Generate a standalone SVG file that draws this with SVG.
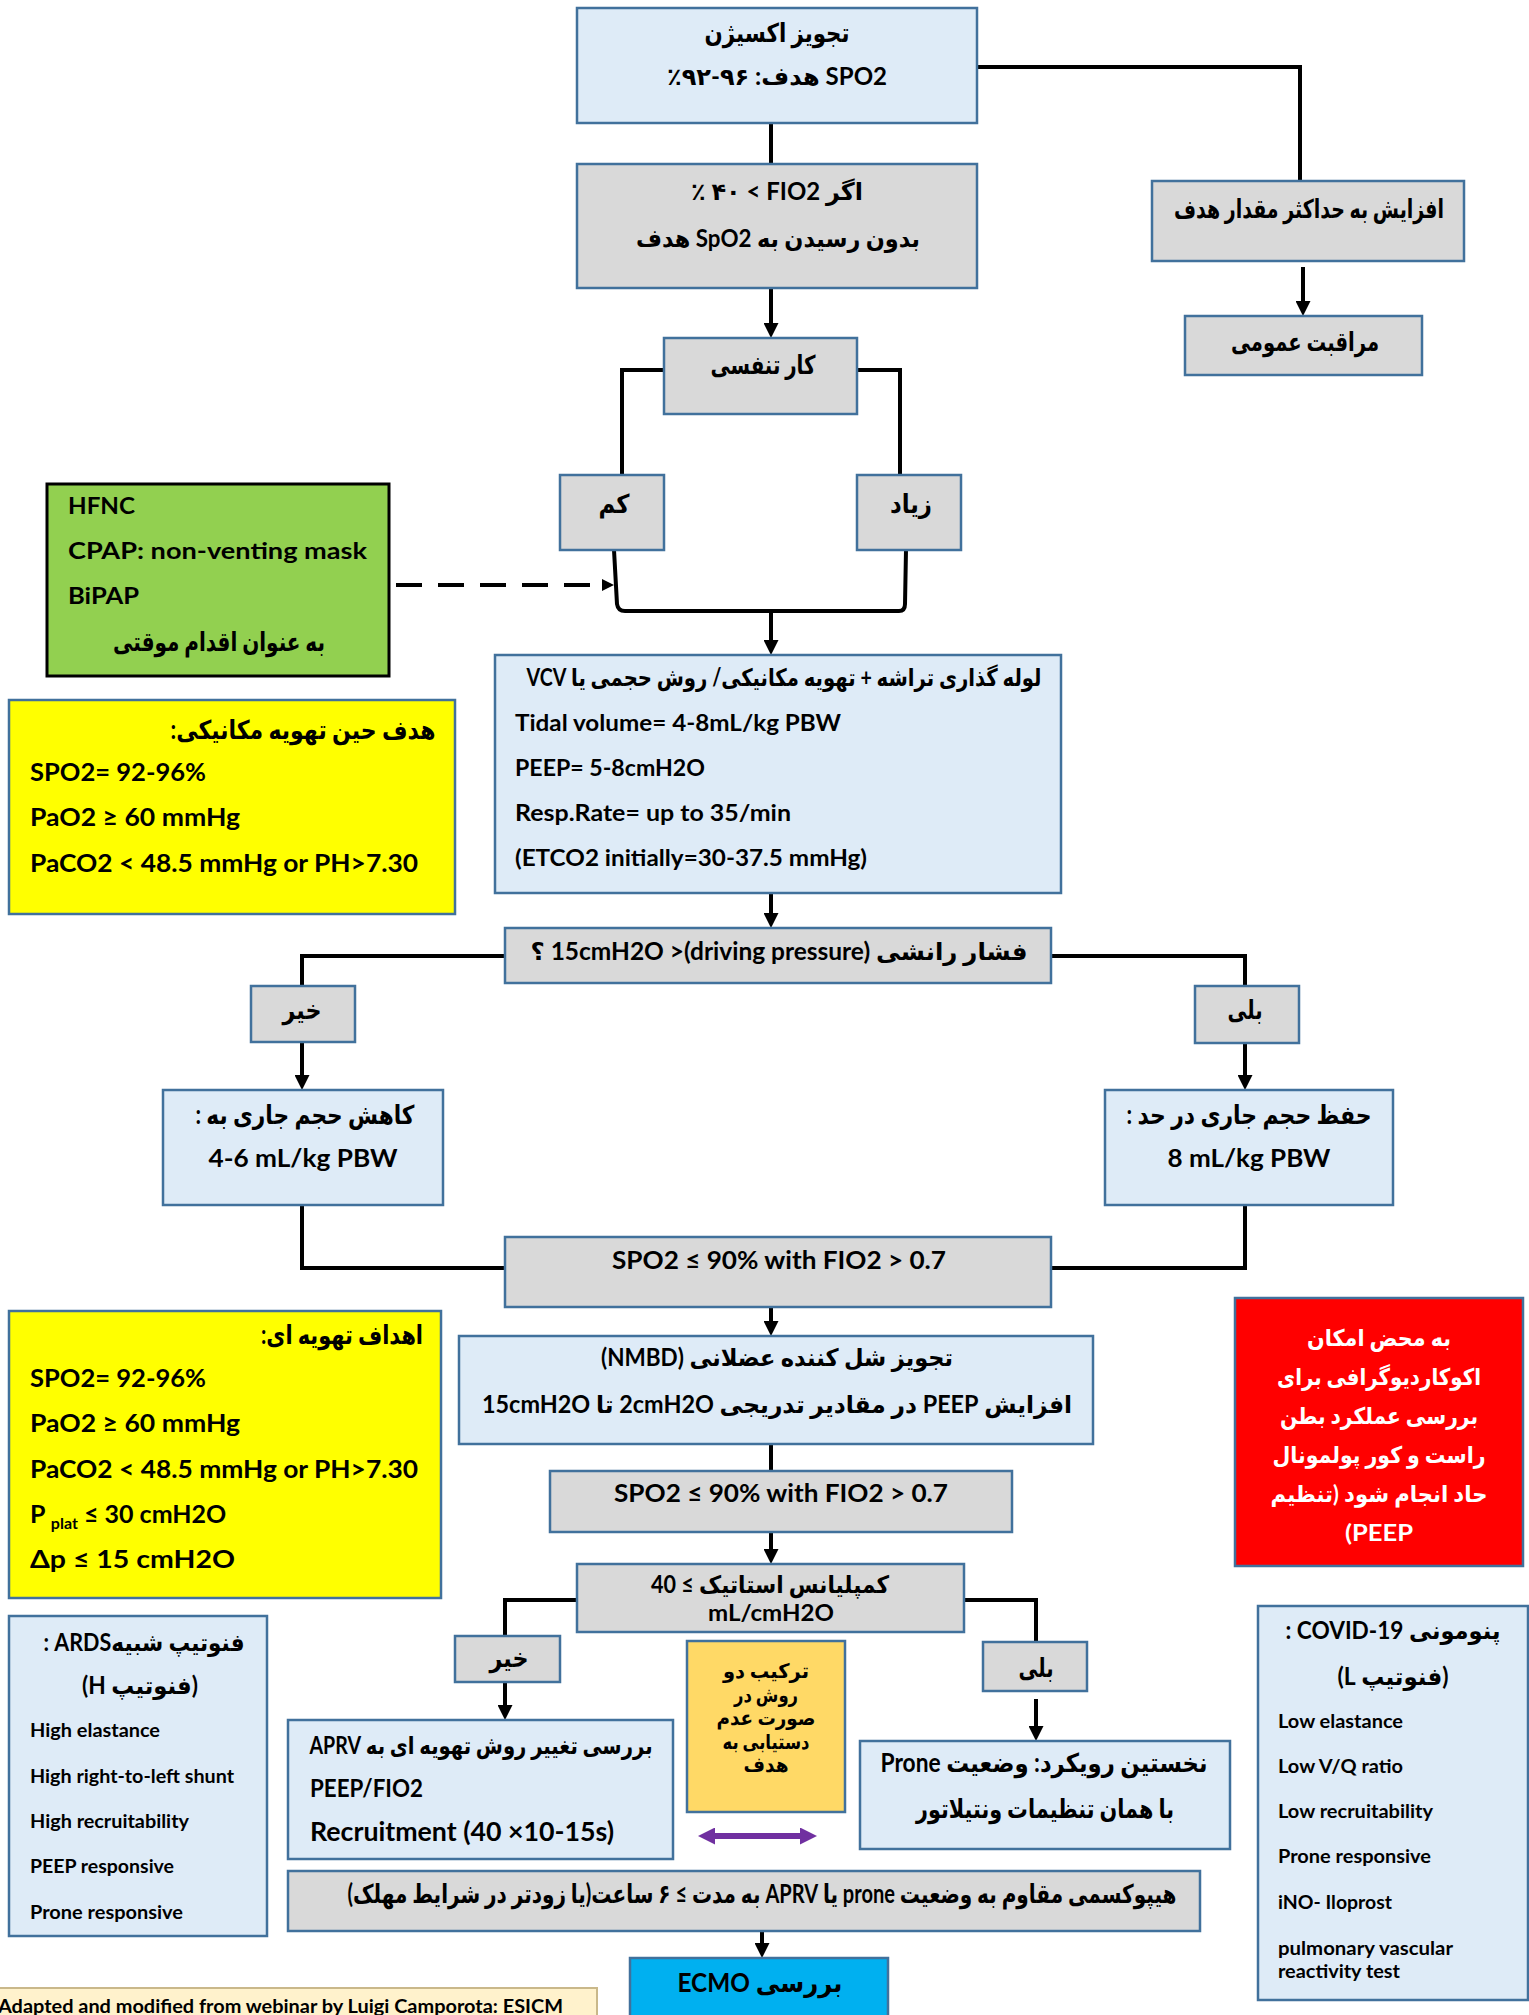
<svg xmlns="http://www.w3.org/2000/svg" width="1529" height="2015" viewBox="0 0 1529 2015">
<style>
.bb{fill:#DEEBF7;stroke:#41719C;stroke-width:2.5}
.bg{fill:#D9D9D9;stroke:#41719C;stroke-width:2.5}
.t{font-family:Lato,'DejaVu Sans',sans-serif;font-weight:700;fill:#000}
.fa{direction:rtl;text-anchor:middle;font-size:26px}
.mx{font-size:24px}
.m{text-anchor:middle}
.s{font-size:18px}
.w{fill:#fff;font-size:23px}
.o{font-size:20px}
.cn path{fill:none;stroke:#000;stroke-width:4}
</style>
<defs>
<marker id="ah" viewBox="0 0 10 10" refX="0" refY="5" markerWidth="15" markerHeight="15" markerUnits="userSpaceOnUse" orient="auto"><path d="M0,0L10,5L0,10z" fill="#000"/></marker>
<marker id="ahs" viewBox="0 0 10 10" refX="0" refY="5" markerWidth="12" markerHeight="12" markerUnits="userSpaceOnUse" orient="auto"><path d="M0,0L10,5L0,10z" fill="#000"/></marker>
<marker id="ahp" viewBox="0 0 10 10" refX="0" refY="5" markerWidth="17" markerHeight="17" markerUnits="userSpaceOnUse" orient="auto-start-reverse"><path d="M0,0L10,5L0,10z" fill="#7030A0"/></marker>
</defs>
<rect width="1529" height="2015" fill="#fff"/>

<g id="connectors" class="cn">
<path d="M977,67H1300V181" stroke-width="4.5"/>
<path d="M771,123V164" stroke-width="5"/>
<path d="M771,288V323" marker-end="url(#ah)" stroke-width="4.5"/>
<path d="M1303,267V301" marker-end="url(#ah)"/>
<path d="M664,370H622V476H591"/>
<path d="M857,370H900V476H939"/>
<path d="M614,550L617,604Q618,611 625,611H899Q905,611 905,604L906,550"/>
<path d="M771,611V640" marker-end="url(#ah)" stroke-width="4.5"/>
<path d="M396,585H602" marker-end="url(#ahs)" stroke-dasharray="26 16"/>
<path d="M771,893V913" marker-end="url(#ah)" stroke-width="4.5"/>
<path d="M505,956H302V986"/>
<path d="M302,1042V1075" marker-end="url(#ah)" stroke-width="3"/>
<path d="M1051,956H1245V986"/>
<path d="M1245,1042V1075" marker-end="url(#ah)"/>
<path d="M302,1205V1268H505"/>
<path d="M1245,1205V1268H1051"/>
<path d="M771,1307V1321" marker-end="url(#ah)" stroke-width="3"/>
<path d="M771,1444V1471" stroke-width="3"/>
<path d="M771,1532V1549" marker-end="url(#ah)" stroke-width="3"/>
<path d="M577,1600H505V1636"/>
<path d="M964,1600H1036V1642"/>
<path d="M505,1682V1705" marker-end="url(#ah)" stroke-width="3"/>
<path d="M1036,1699V1726" marker-end="url(#ah)" stroke-width="3"/>
<path d="M762,1931V1943" marker-end="url(#ah)" stroke-width="3"/>
<path d="M715,1836H800" marker-start="url(#ahp)" marker-end="url(#ahp)" style="stroke:#7030A0;stroke-width:6"/>
</g>

<g id="n-oxygen"><rect class="bb" x="577" y="8" width="400" height="115"/>
<text class="t fa" x="777" y="42" textLength="145" lengthAdjust="spacingAndGlyphs">تجویز اکسیژن</text>
<text class="t fa mx" x="777" y="85" textLength="220" lengthAdjust="spacingAndGlyphs">&#x2066;SPO2&#x2069; هدف: &#x2066;٪۹۲-۹۶&#x2069;</text></g>

<g id="n-fio2"><rect class="bg" x="577" y="164" width="400" height="124"/>
<text class="t fa mx" x="777" y="200" textLength="172" lengthAdjust="spacingAndGlyphs">اگر &#x2066;٪ ۴۰ &lt; FIO2&#x2069;</text>
<text class="t fa mx" x="778" y="247" textLength="284" lengthAdjust="spacingAndGlyphs">بدون رسیدن به &#x2066;SpO2&#x2069; هدف</text></g>

<g id="n-increase"><rect class="bg" x="1152" y="181" width="312" height="80"/>
<text class="t fa" x="1309" y="218" font-size="21" textLength="270" lengthAdjust="spacingAndGlyphs">افزایش به حداکثر مقدار هدف</text></g>

<g id="n-care"><rect class="bg" x="1185" y="316" width="237" height="59"/>
<text class="t fa" x="1305" y="351" textLength="148" lengthAdjust="spacingAndGlyphs">مراقبت عمومی</text></g>

<g id="n-wob"><rect class="bg" x="664" y="338" width="193" height="76"/>
<text class="t fa" x="763" y="374" textLength="105" lengthAdjust="spacingAndGlyphs">کار تنفسی</text></g>

<g id="n-low"><rect class="bg" x="560" y="475" width="104" height="75"/>
<text class="t fa" x="614" y="513" textLength="31" lengthAdjust="spacingAndGlyphs">کم</text></g>

<g id="n-high"><rect class="bg" x="857" y="475" width="104" height="75"/>
<text class="t fa" x="911" y="513" textLength="42" lengthAdjust="spacingAndGlyphs">زیاد</text></g>

<g id="n-nippv"><rect x="47" y="484" width="342" height="192" fill="#92D050" stroke="#000" stroke-width="3"/>
<text class="t" x="68" y="514" font-size="23" textLength="67" lengthAdjust="spacingAndGlyphs">HFNC</text>
<text class="t" x="68" y="559" font-size="23" textLength="299" lengthAdjust="spacingAndGlyphs">CPAP: non-venting mask</text>
<text class="t" x="68" y="604" font-size="23" textLength="71" lengthAdjust="spacingAndGlyphs">BiPAP</text>
<text class="t fa" x="219" y="651" textLength="212" lengthAdjust="spacingAndGlyphs">به عنوان اقدام موقتی</text></g>

<g id="n-intubation"><rect class="bb" x="495" y="655" width="566" height="238"/>
<text class="t fa mx" x="784" y="686" textLength="515" lengthAdjust="spacingAndGlyphs">لوله گذاری تراشه + تهویه مکانیکی/ روش حجمی یا &#x2066;VCV&#x2069;</text>
<text class="t" x="515" y="731" font-size="23" textLength="326" lengthAdjust="spacingAndGlyphs">Tidal volume= 4-8mL/kg PBW</text>
<text class="t" x="515" y="776" font-size="23" textLength="190" lengthAdjust="spacingAndGlyphs">PEEP= 5-8cmH2O</text>
<text class="t" x="515" y="821" font-size="23" textLength="276" lengthAdjust="spacingAndGlyphs">Resp.Rate= up to 35/min</text>
<text class="t" x="515" y="866" font-size="23" textLength="352" lengthAdjust="spacingAndGlyphs">(ETCO2 initially=30-37.5 mmHg)</text></g>

<g id="n-goal-mv"><rect x="9" y="700" width="446" height="214" fill="#FFFF00" stroke="#41719C" stroke-width="2.5"/>
<text class="t fa" x="303" y="739" font-size="25" textLength="265" lengthAdjust="spacingAndGlyphs">هدف حین تهویه مکانیکی:</text>
<text class="t" x="30" y="781" font-size="25" textLength="176" lengthAdjust="spacingAndGlyphs">SPO2= 92-96%</text>
<text class="t" x="30" y="826" font-size="25" textLength="210" lengthAdjust="spacingAndGlyphs">PaO2 ≥ 60 mmHg</text>
<text class="t" x="30" y="872" font-size="25" textLength="388" lengthAdjust="spacingAndGlyphs">PaCO2 &lt; 48.5 mmHg or PH&gt;7.30</text></g>

<g id="n-dp"><rect class="bg" x="505" y="928" width="546" height="55"/>
<text class="t fa mx" x="779" y="960" textLength="497" lengthAdjust="spacingAndGlyphs">فشار رانشی &#x2066;15cmH2O &gt;(driving pressure)&#x2069; ؟</text></g>

<g id="n-no1"><rect class="bg" x="251" y="986" width="104" height="56"/>
<text class="t fa" x="302" y="1019" textLength="39" lengthAdjust="spacingAndGlyphs">خیر</text></g>

<g id="n-yes1"><rect class="bg" x="1195" y="986" width="104" height="57"/>
<text class="t fa" x="1245" y="1019" textLength="35" lengthAdjust="spacingAndGlyphs">بلی</text></g>

<g id="n-reduce"><rect class="bb" x="163" y="1090" width="280" height="115"/>
<text class="t fa" x="305" y="1124" textLength="219" lengthAdjust="spacingAndGlyphs">کاهش حجم جاری به :</text>
<text class="t m" x="303" y="1167" font-size="25" textLength="189" lengthAdjust="spacingAndGlyphs">4-6 mL/kg PBW</text></g>

<g id="n-keep"><rect class="bb" x="1105" y="1090" width="288" height="115"/>
<text class="t fa" x="1249" y="1124" textLength="245" lengthAdjust="spacingAndGlyphs">حفظ حجم جاری در حد :</text>
<text class="t m" x="1249" y="1167" font-size="25" textLength="163" lengthAdjust="spacingAndGlyphs">8 mL/kg PBW</text></g>

<g id="n-spo2a"><rect class="bg" x="505" y="1237" width="546" height="70"/>
<text class="t m" x="779" y="1269" font-size="24" textLength="334" lengthAdjust="spacingAndGlyphs">SPO2 ≤ 90% with FIO2 &gt; 0.7</text></g>

<g id="n-nmbd"><rect class="bb" x="459" y="1336" width="634" height="108"/>
<text class="t fa mx" x="777" y="1366" textLength="352" lengthAdjust="spacingAndGlyphs">تجویز شل کننده عضلانی (NMBD)</text>
<text class="t fa mx" x="777" y="1413" textLength="590" lengthAdjust="spacingAndGlyphs">افزایش &#x2066;PEEP&#x2069; در مقادیر تدریجی &#x2066;2cmH2O&#x2069; تا  &#x2066;15cmH2O&#x2069;</text></g>

<g id="n-spo2b"><rect class="bg" x="550" y="1471" width="462" height="61"/>
<text class="t m" x="781" y="1502" font-size="24" textLength="334" lengthAdjust="spacingAndGlyphs">SPO2 ≤ 90% with FIO2 &gt; 0.7</text></g>

<g id="n-compliance"><rect class="bg" x="577" y="1564" width="387" height="68"/>
<text class="t fa mx" x="770" y="1593" textLength="238" lengthAdjust="spacingAndGlyphs">کمپلیانس استاتیک &#x2066;40  ≤&#x2069;</text>
<text class="t m" x="771" y="1621" font-size="23" textLength="126" lengthAdjust="spacingAndGlyphs">mL/cmH2O</text></g>

<g id="n-no2"><rect class="bg" x="455" y="1636" width="105" height="46"/>
<text class="t fa" x="509" y="1667" textLength="39" lengthAdjust="spacingAndGlyphs">خیر</text></g>

<g id="n-yes2"><rect class="bg" x="983" y="1642" width="104" height="49"/>
<text class="t fa" x="1036" y="1677" textLength="35" lengthAdjust="spacingAndGlyphs">بلی</text></g>

<g id="n-aprv"><rect class="bb" x="288" y="1720" width="385" height="139"/>
<text class="t fa mx" x="481" y="1754" textLength="343" lengthAdjust="spacingAndGlyphs">بررسی تغییر روش تهویه ای به &#x2066;APRV&#x2069;</text>
<text class="t" x="310" y="1797" font-size="24" textLength="113" lengthAdjust="spacingAndGlyphs">PEEP/FIO2</text>
<text class="t" x="310" y="1841" font-size="26" textLength="304" lengthAdjust="spacingAndGlyphs">Recruitment (40 ×10-15s)</text></g>

<g id="n-combine"><rect x="687" y="1641" width="158" height="171" fill="#FFD966" stroke="#41719C" stroke-width="2.5"/>
<text class="t fa o" x="766" y="1678" textLength="86" lengthAdjust="spacingAndGlyphs">ترکیب دو</text>
<text class="t fa o" x="766" y="1702" textLength="64" lengthAdjust="spacingAndGlyphs">روش در</text>
<text class="t fa o" x="766" y="1725" textLength="99" lengthAdjust="spacingAndGlyphs">صورت عدم</text>
<text class="t fa o" x="766" y="1749" textLength="87" lengthAdjust="spacingAndGlyphs">دستیابی به</text>
<text class="t fa o" x="766" y="1772" textLength="45" lengthAdjust="spacingAndGlyphs">هدف</text></g>

<g id="n-prone"><rect class="bb" x="860" y="1741" width="370" height="108"/>
<text class="t fa" x="1044" y="1772" font-size="25" textLength="327" lengthAdjust="spacingAndGlyphs">نخستین رویکرد: وضعیت &#x2066;Prone&#x2069;</text>
<text class="t fa" x="1045" y="1818" textLength="258" lengthAdjust="spacingAndGlyphs">با همان تنظیمات ونتیلاتور</text></g>

<g id="n-hypoxemia"><rect class="bg" x="288" y="1871" width="912" height="60"/>
<text class="t fa" x="762" y="1903" font-size="25" textLength="829" lengthAdjust="spacingAndGlyphs">هیپوکسمی مقاوم به وضعیت &#x2066;prone&#x2069; یا &#x2066;APRV&#x2069; به مدت &#x2066;۶ ≤&#x2069; ساعت(یا زودتر در شرایط مهلک)</text></g>

<g id="n-ecmo"><rect x="630" y="1958" width="258" height="70" fill="#00B0F0" stroke="#41719C" stroke-width="2.5"/>
<text class="t fa" x="760" y="1992" font-size="30" textLength="165" lengthAdjust="spacingAndGlyphs">بررسی &#x2066;ECMO&#x2069;</text></g>

<g id="n-source"><rect x="-5" y="1988" width="602" height="40" fill="#FFF2CC" stroke="#C9B88A" stroke-width="2"/>
<text class="t" x="-2" y="2013" font-size="19" textLength="565" lengthAdjust="spacingAndGlyphs">Adapted and modified from webinar by Luigi Camporota: ESICM</text></g>

<g id="n-vent-goals"><rect x="9" y="1311" width="432" height="287" fill="#FFFF00" stroke="#41719C" stroke-width="2.5"/>
<text class="t fa" x="342" y="1344" font-size="25" textLength="162" lengthAdjust="spacingAndGlyphs">اهداف تهویه ای:</text>
<text class="t" x="30" y="1387" font-size="25" textLength="176" lengthAdjust="spacingAndGlyphs">SPO2= 92-96%</text>
<text class="t" x="30" y="1432" font-size="25" textLength="210" lengthAdjust="spacingAndGlyphs">PaO2 ≥ 60 mmHg</text>
<text class="t" x="30" y="1478" font-size="25" textLength="388" lengthAdjust="spacingAndGlyphs">PaCO2 &lt; 48.5 mmHg or PH&gt;7.30</text>
<text class="t" x="30" y="1523" font-size="25">P <tspan font-size="16" dy="6">plat</tspan><tspan dy="-6"> ≤ 30 cmH2O</tspan></text>
<text class="t" x="30" y="1568" font-size="25" textLength="205" lengthAdjust="spacingAndGlyphs">Δp  ≤  15  cmH2O</text></g>

<g id="n-echo"><rect x="1235" y="1298" width="288" height="268" fill="#FF0000" stroke="#41719C" stroke-width="2.5"/>
<text class="t fa w" x="1379" y="1346" textLength="144" lengthAdjust="spacingAndGlyphs">به محض امکان</text>
<text class="t fa w" x="1379" y="1385" textLength="204" lengthAdjust="spacingAndGlyphs">اکوکاردیوگرافی برای</text>
<text class="t fa w" x="1379" y="1424" textLength="198" lengthAdjust="spacingAndGlyphs">بررسی عملکرد بطن</text>
<text class="t fa w" x="1379" y="1463" textLength="213" lengthAdjust="spacingAndGlyphs">راست  و کور پولمونال</text>
<text class="t fa w" x="1379" y="1502" textLength="217" lengthAdjust="spacingAndGlyphs">حاد انجام شود (تنظیم</text>
<text class="t fa w" x="1379" y="1541" textLength="68" lengthAdjust="spacingAndGlyphs">PEEP)</text></g>

<g id="n-phenotype-h"><rect class="bb" x="9" y="1616" width="258" height="320"/>
<text class="t fa mx" x="144" y="1651" textLength="201" lengthAdjust="spacingAndGlyphs">فنوتیپ شبیهARDS :</text>
<text class="t fa mx" x="140" y="1694" textLength="116" lengthAdjust="spacingAndGlyphs">(فنوتیپ H)</text>
<text class="t s" x="30" y="1737" textLength="130" lengthAdjust="spacingAndGlyphs">High elastance</text>
<text class="t s" x="30" y="1783" textLength="204" lengthAdjust="spacingAndGlyphs">High right-to-left shunt</text>
<text class="t s" x="30" y="1828" textLength="159" lengthAdjust="spacingAndGlyphs">High recruitability</text>
<text class="t s" x="30" y="1873" textLength="144" lengthAdjust="spacingAndGlyphs">PEEP responsive</text>
<text class="t s" x="30" y="1919" textLength="153" lengthAdjust="spacingAndGlyphs">Prone responsive</text></g>

<g id="n-phenotype-l"><rect class="bb" x="1258" y="1606" width="270" height="394"/>
<text class="t fa mx" x="1393" y="1639" textLength="215" lengthAdjust="spacingAndGlyphs">پنومونی COVID-19 :</text>
<text class="t fa mx" x="1393" y="1685" textLength="111" lengthAdjust="spacingAndGlyphs">(فنوتیپ L)</text>
<text class="t s" x="1278" y="1728" textLength="125" lengthAdjust="spacingAndGlyphs">Low elastance</text>
<text class="t s" x="1278" y="1773" textLength="125" lengthAdjust="spacingAndGlyphs">Low V/Q ratio</text>
<text class="t s" x="1278" y="1818" textLength="155" lengthAdjust="spacingAndGlyphs">Low recruitability</text>
<text class="t s" x="1278" y="1863" textLength="153" lengthAdjust="spacingAndGlyphs">Prone responsive</text>
<text class="t s" x="1278" y="1909" textLength="114" lengthAdjust="spacingAndGlyphs">iNO- Iloprost</text>
<text class="t s" x="1278" y="1955" textLength="175" lengthAdjust="spacingAndGlyphs">pulmonary vascular</text>
<text class="t s" x="1278" y="1978" textLength="122" lengthAdjust="spacingAndGlyphs">reactivity test</text></g>
</svg>
